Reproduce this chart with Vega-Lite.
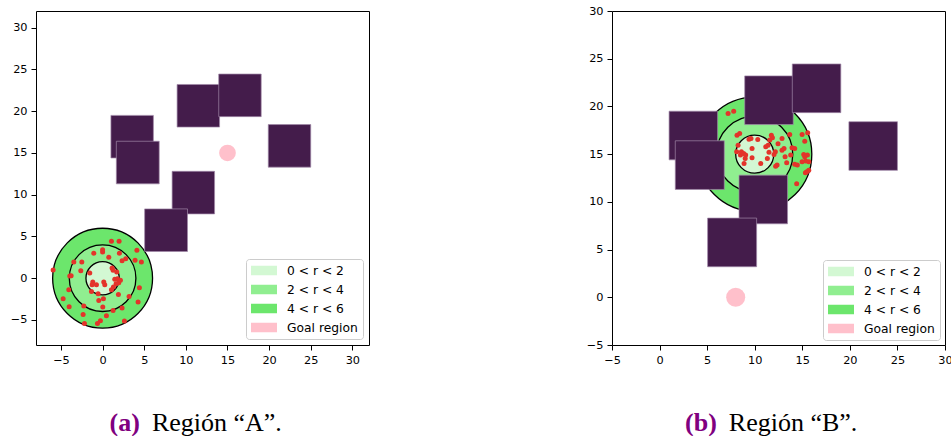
{
  "$schema": "https://vega.github.io/schema/vega-lite/v6.json",
  "padding": {"left": 9, "top": 4, "right": 0, "bottom": 0},
  "background": "white",
  "datasets": {
    "obstacles": [
      {"x0": 1.0, "x1": 6.1, "y0": 14.4, "y1": 19.5},
      {"x0": 1.65, "x1": 6.8, "y0": 11.3, "y1": 16.4},
      {"x0": 8.95, "x1": 14.05, "y0": 18.1, "y1": 23.2},
      {"x0": 13.95, "x1": 19.05, "y0": 19.35, "y1": 24.45},
      {"x0": 19.9, "x1": 25.0, "y0": 13.3, "y1": 18.4},
      {"x0": 8.35, "x1": 13.45, "y0": 7.7, "y1": 12.8},
      {"x0": 5.05, "x1": 10.2, "y0": 3.2, "y1": 8.3}
    ],
    "ringsA": [
      {"cx": 0, "cy": 0, "r": 6, "region": "4 < r < 6"},
      {"cx": 0, "cy": 0, "r": 4, "region": "2 < r < 4"},
      {"cx": 0, "cy": 0, "r": 2, "region": "0 < r < 2"}
    ],
    "ringsB": [
      {"cx": 10, "cy": 15, "r": 6, "region": "4 < r < 6"},
      {"cx": 10, "cy": 15, "r": 4, "region": "2 < r < 4"},
      {"cx": 10, "cy": 15, "r": 2, "region": "0 < r < 2"}
    ],
    "goalA": [{"cx": 15, "cy": 15, "r": 1, "region": "Goal region"}],
    "goalB": [{"cx": 8, "cy": 0, "r": 1, "region": "Goal region"}],
    "samplesA": [
      {"x": 1.06, "y": 4.42}, {"x": 1.98, "y": 4.42}, {"x": 0.0, "y": 3.4}, {"x": 0.0, "y": 3.15},
      {"x": -1.06, "y": 2.98}, {"x": 2.02, "y": 2.98}, {"x": 4.12, "y": 3.34}, {"x": 0.74, "y": 2.5},
      {"x": 2.78, "y": 2.34}, {"x": 2.34, "y": 2.1}, {"x": 3.9, "y": 2.14}, {"x": 4.66, "y": 1.94},
      {"x": -3.46, "y": 1.94}, {"x": -2.5, "y": 1.94}, {"x": -5.94, "y": 0.98}, {"x": -2.62, "y": 0.9},
      {"x": -1.54, "y": 0.62}, {"x": 1.14, "y": 1.22}, {"x": 1.26, "y": 0.94}, {"x": 1.7, "y": 0.74},
      {"x": -3.94, "y": 0.26}, {"x": -3.78, "y": 0.3}, {"x": -1.18, "y": -0.46}, {"x": -0.74, "y": -0.78},
      {"x": -1.26, "y": -0.78}, {"x": 0.14, "y": -0.46}, {"x": 0.26, "y": -0.78}, {"x": 1.46, "y": -0.14},
      {"x": 1.78, "y": -0.06}, {"x": 1.94, "y": -0.54}, {"x": 1.62, "y": -0.66}, {"x": 1.3, "y": -1.06},
      {"x": 1.06, "y": -1.38}, {"x": 2.14, "y": -0.26}, {"x": -4.06, "y": -1.38}, {"x": -1.34, "y": -1.58},
      {"x": -0.54, "y": -1.86}, {"x": 0.1, "y": -2.46}, {"x": -0.46, "y": -2.66}, {"x": 1.9, "y": -1.94},
      {"x": 3.18, "y": -2.18}, {"x": 4.42, "y": -1.14}, {"x": -4.74, "y": -2.46}, {"x": 4.26, "y": -2.86},
      {"x": -4.02, "y": -3.42}, {"x": -2.26, "y": -3.34}, {"x": 0.02, "y": -3.46}, {"x": 1.26, "y": -3.86},
      {"x": 2.34, "y": -3.58}, {"x": -2.34, "y": -4.34}, {"x": 0.46, "y": -4.5}, {"x": -0.26, "y": -5.1},
      {"x": -0.62, "y": -5.42}, {"x": -2.18, "y": -5.42}, {"x": 2.62, "y": -5.14}
    ],
    "samplesB": [
      {"x": 7.2, "y": 19.26}, {"x": 7.79, "y": 19.5}, {"x": 8.14, "y": 16.99}, {"x": 8.42, "y": 17.17},
      {"x": 8.25, "y": 15.94}, {"x": 8.1, "y": 15.24}, {"x": 8.6, "y": 15.24}, {"x": 8.5, "y": 14.9},
      {"x": 8.84, "y": 15.07}, {"x": 9.05, "y": 14.9}, {"x": 8.88, "y": 14.02}, {"x": 9.4, "y": 16.57},
      {"x": 9.61, "y": 16.64}, {"x": 10.32, "y": 16.54}, {"x": 9.72, "y": 15.6}, {"x": 9.72, "y": 14.62},
      {"x": 10.63, "y": 14.02}, {"x": 11.33, "y": 14.55}, {"x": 11.16, "y": 15.77}, {"x": 11.4, "y": 15.94},
      {"x": 11.75, "y": 16.99}, {"x": 11.86, "y": 16.71}, {"x": 11.58, "y": 16.47}, {"x": 12.45, "y": 16.08},
      {"x": 12.87, "y": 16.64}, {"x": 12.17, "y": 15.24}, {"x": 12.03, "y": 14.97}, {"x": 12.87, "y": 15.42},
      {"x": 13.08, "y": 15.59}, {"x": 13.19, "y": 14.72}, {"x": 13.36, "y": 14.09}, {"x": 12.35, "y": 13.85},
      {"x": 12.2, "y": 13.74}, {"x": 13.68, "y": 17.06}, {"x": 13.92, "y": 15.66}, {"x": 14.2, "y": 15.59},
      {"x": 13.78, "y": 14.9}, {"x": 14.2, "y": 13.95}, {"x": 14.48, "y": 13.85}, {"x": 14.98, "y": 17.06},
      {"x": 15.57, "y": 17.24}, {"x": 15.26, "y": 16.36}, {"x": 15.15, "y": 14.97}, {"x": 15.54, "y": 14.9},
      {"x": 15.26, "y": 14.72}, {"x": 15.36, "y": 14.27}, {"x": 15.68, "y": 14.2}, {"x": 14.98, "y": 14.2},
      {"x": 15.47, "y": 13.15}, {"x": 15.68, "y": 13.32}, {"x": 15.33, "y": 13.04}, {"x": 14.41, "y": 11.9},
      {"x": 11.5, "y": 15.2}, {"x": 9.0, "y": 14.55}
    ],
    "captionA": [{"tag": "(a)", "body": "Región “A”."}],
    "captionB": [{"tag": "(b)", "body": "Región “B”."}]
  },
  "hconcat": [
    {
      "width": 333,
      "height": 334,
      "layer": [
        {
          "data": {"name": "ringsA"},
          "mark": {"type": "point", "shape": "circle", "filled": true, "opacity": 1, "stroke": "black", "strokeWidth": 1.3},
          "encoding": {
            "x": {"field": "cx", "type": "quantitative", "scale": {"domain": [-8, 32], "nice": false, "zero": false},
                  "axis": {"values": [-5, 0, 5, 10, 15, 20, 25, 30]}},
            "y": {"field": "cy", "type": "quantitative", "scale": {"domain": [-8, 32], "nice": false, "zero": false},
                  "axis": {"values": [-5, 0, 5, 10, 15, 20, 25, 30]}},
            "size": {"field": "r", "type": "quantitative", "scale": {"type": "pow", "exponent": 2, "domain": [0, 6], "range": [0, 9980]}, "legend": null},
            "fill": {"field": "region", "type": "nominal",
                     "scale": {"domain": ["0 < r < 2", "2 < r < 4", "4 < r < 6", "Goal region"], "range": ["#d3f8d3", "#90ee90", "#6ce66c", "#ffc0cb"]},
                     "legend": {"orient": "bottom-right", "offset": 6}}
          }
        },
        {
          "data": {"name": "goalA"},
          "mark": {"type": "point", "shape": "circle", "filled": true, "opacity": 1, "strokeWidth": 0},
          "encoding": {
            "x": {"field": "cx", "type": "quantitative"},
            "y": {"field": "cy", "type": "quantitative"},
            "size": {"field": "r", "type": "quantitative"},
            "fill": {"field": "region", "type": "nominal"}
          }
        },
        {
          "data": {"name": "samplesA"},
          "mark": {"type": "point", "shape": "circle", "filled": true, "opacity": 1, "color": "#e3342a", "size": 25, "strokeWidth": 0},
          "encoding": {
            "x": {"field": "x", "type": "quantitative"},
            "y": {"field": "y", "type": "quantitative"}
          }
        },
        {
          "data": {"name": "obstacles"},
          "mark": {"type": "rect", "color": "#441c4b", "stroke": "#a088a8", "strokeWidth": 0.7},
          "encoding": {
            "x": {"field": "x0", "type": "quantitative"},
            "x2": {"field": "x1"},
            "y": {"field": "y0", "type": "quantitative"},
            "y2": {"field": "y1"}
          }
        },
        {
          "data": {"name": "captionA"},
          "mark": {"type": "text", "align": "right", "baseline": "alphabetic", "font": "Liberation Serif", "fontSize": 26, "fontWeight": "bold", "color": "#800080", "dx": -6},
          "encoding": {
            "x": {"datum": 5.2, "type": "quantitative"},
            "y": {"datum": -18.34, "type": "quantitative"},
            "text": {"field": "tag"}
          }
        },
        {
          "data": {"name": "captionA"},
          "mark": {"type": "text", "align": "left", "baseline": "alphabetic", "font": "Liberation Serif", "fontSize": 26, "color": "black", "dx": 6},
          "encoding": {
            "x": {"datum": 5.2, "type": "quantitative"},
            "y": {"datum": -18.34, "type": "quantitative"},
            "text": {"field": "body"}
          }
        }
      ]
    },
    {
      "width": 333,
      "height": 334,
      "layer": [
        {
          "data": {"name": "ringsB"},
          "mark": {"type": "point", "shape": "circle", "filled": true, "opacity": 1, "stroke": "black", "strokeWidth": 1.3},
          "encoding": {
            "x": {"field": "cx", "type": "quantitative", "scale": {"domain": [-5, 30], "nice": false, "zero": false},
                  "axis": {"values": [-5, 0, 5, 10, 15, 20, 25, 30]}},
            "y": {"field": "cy", "type": "quantitative", "scale": {"domain": [-5, 30], "nice": false, "zero": false},
                  "axis": {"values": [-5, 0, 5, 10, 15, 20, 25, 30]}},
            "size": {"field": "r", "type": "quantitative", "scale": {"type": "pow", "exponent": 2, "domain": [0, 6], "range": [0, 13035]}, "legend": null},
            "fill": {"field": "region", "type": "nominal",
                     "scale": {"domain": ["0 < r < 2", "2 < r < 4", "4 < r < 6", "Goal region"], "range": ["#d3f8d3", "#90ee90", "#6ce66c", "#ffc0cb"]},
                     "legend": {"orient": "bottom-right", "offset": 5}}
          }
        },
        {
          "data": {"name": "goalB"},
          "mark": {"type": "point", "shape": "circle", "filled": true, "opacity": 1, "strokeWidth": 0},
          "encoding": {
            "x": {"field": "cx", "type": "quantitative"},
            "y": {"field": "cy", "type": "quantitative"},
            "size": {"field": "r", "type": "quantitative"},
            "fill": {"field": "region", "type": "nominal"}
          }
        },
        {
          "data": {"name": "samplesB"},
          "mark": {"type": "point", "shape": "circle", "filled": true, "opacity": 1, "color": "#e3342a", "size": 25, "strokeWidth": 0},
          "encoding": {
            "x": {"field": "x", "type": "quantitative"},
            "y": {"field": "y", "type": "quantitative"}
          }
        },
        {
          "data": {"name": "obstacles"},
          "mark": {"type": "rect", "color": "#441c4b", "stroke": "#a088a8", "strokeWidth": 0.7},
          "encoding": {
            "x": {"field": "x0", "type": "quantitative"},
            "x2": {"field": "x1"},
            "y": {"field": "y0", "type": "quantitative"},
            "y2": {"field": "y1"}
          }
        },
        {
          "data": {"name": "captionB"},
          "mark": {"type": "text", "align": "right", "baseline": "alphabetic", "font": "Liberation Serif", "fontSize": 26, "fontWeight": "bold", "color": "#800080", "dx": -6},
          "encoding": {
            "x": {"datum": 6.65, "type": "quantitative"},
            "y": {"datum": -14.01, "type": "quantitative"},
            "text": {"field": "tag"}
          }
        },
        {
          "data": {"name": "captionB"},
          "mark": {"type": "text", "align": "left", "baseline": "alphabetic", "font": "Liberation Serif", "fontSize": 26, "color": "black", "dx": 6},
          "encoding": {
            "x": {"datum": 6.65, "type": "quantitative"},
            "y": {"datum": -14.01, "type": "quantitative"},
            "text": {"field": "body"}
          }
        }
      ]
    }
  ],
  "spacing": 243,
  "bounds": "flush",
  "resolve": {"scale": {"fill": "independent", "size": "independent", "x": "independent", "y": "independent"}, "legend": {"fill": "independent"}},
  "config": {
    "view": {"stroke": "black", "strokeWidth": 1},
    "axis": {
      "title": null,
      "grid": false,
      "domain": false,
      "ticks": true,
      "tickColor": "black",
      "tickSize": 5,
      "tickWidth": 1,
      "labelFont": "DejaVu Sans",
      "labelFontSize": 11.3,
      "labelColor": "black",
      "labelPadding": 4,
      "labelFlush": false,
      "labelOverlap": false
    },
    "legend": {
      "title": null,
      "orient": "bottom-right",
      "offset": 6,
      "padding": 5,
      "fillColor": "white",
      "strokeColor": "#cccccc",
      "cornerRadius": 3,
      "symbolType": "M-1,-0.36H1V0.36H-1Z",
      "symbolSize": 676,
      "symbolStrokeWidth": 0,
      "symbolStrokeColor": "transparent",
      "symbolOpacity": 1,
      "labelFont": "DejaVu Sans",
      "labelFontSize": 12.3,
      "labelColor": "black",
      "labelOffset": 10,
      "clipHeight": 13,
      "rowPadding": 6
    }
  }
}
